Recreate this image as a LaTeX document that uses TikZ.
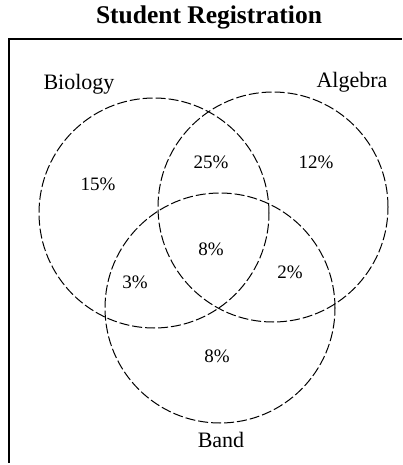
\documentclass[tikz,border=0pt]{standalone}
\usepackage{fontspec}
\setmainfont{Liberation Serif}
\usetikzlibrary{positioning}

\tikzset{
  setcirc/.style={circle,draw,dash pattern=on 10pt off 3pt,line width=1pt,minimum size=230pt,inner sep=0pt},
  setname/.style={font=\fontsize{22}{24}\selectfont},
  pct/.style={font=\fontsize{19}{21}\selectfont}
}

\begin{document}
\begin{tikzpicture}[x=1pt,y=-1pt]
  \useasboundingbox (0,0) rectangle (402,465);
  \node[font=\fontsize{25.5}{28}\selectfont\bfseries] (title) at (209,17) {Student Registration};
  \draw[line width=1.1pt] (8,39) -- (402,39);
  \draw[line width=1.1pt] (9,39) -- (9,463);
  \node[setcirc] (bio) at (154,213) {};
  \node[setcirc] (alg) at (273,207) {};
  \node[setcirc] (band) at (220,308) {};
  \node[setname] (biolab) at (79,84) {Biology};
  \node[setname] (alglab) at (352,82) {Algebra};
  \node[setname] (bandlab) at (221,440) {Band};
  \node[pct] (pbio) at (98,184) {15\%};
  \node[pct] (pba) at (211,162) {25\%};
  \node[pct] (palg) at (316,162) {12\%};
  \node[pct] (pall) at (211,249) {8\%};
  \node[pct] (pbb) at (135,282) {3\%};
  \node[pct] (pab) at (290,272) {2\%};
  \node[pct] (pband) at (217,356) {8\%};
\end{tikzpicture}
\end{document}
